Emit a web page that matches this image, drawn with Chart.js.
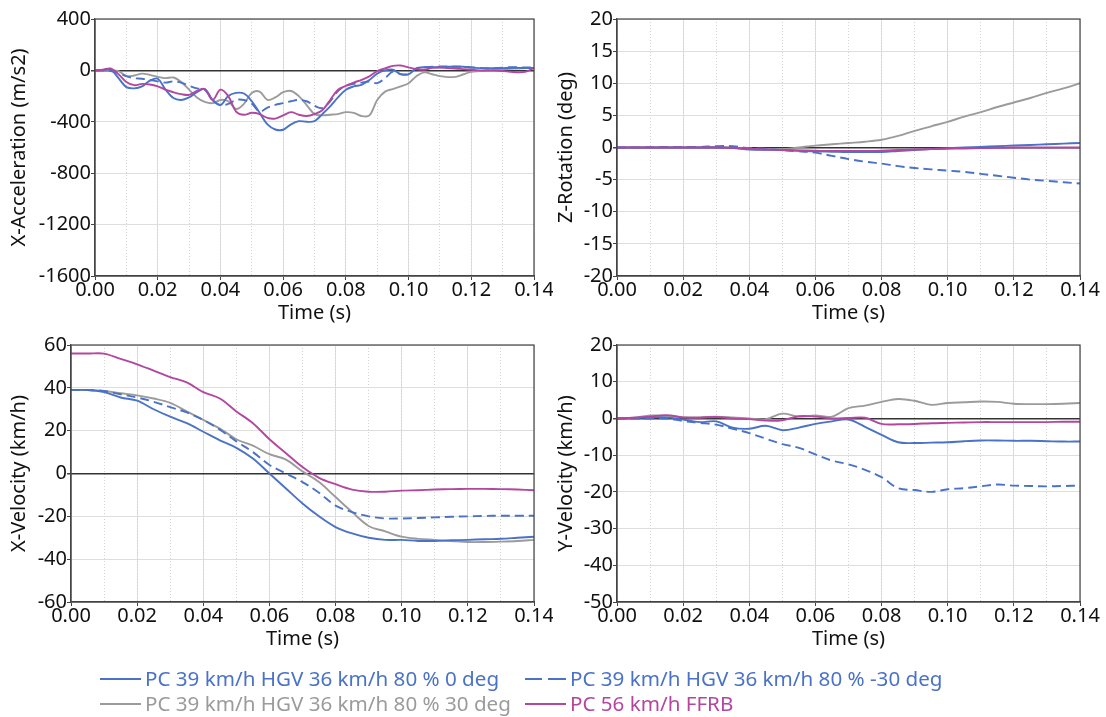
<!DOCTYPE html>
<html><head><meta charset="utf-8">
<script src="https://cdn.jsdelivr.net/npm/chart.js@4.4.1/dist/chart.umd.min.js"></script>
<style>
html,body{margin:0;padding:0;background:#fff;width:1106px;height:717px;overflow:hidden;font-family:'Noto Sans',sans-serif;}
canvas{position:absolute;}
.leg{position:absolute;font-size:20.6px;line-height:25px;white-space:nowrap;}
.ln{display:inline-block;vertical-align:middle;width:41px;height:0;border-top:2px solid;margin-right:4px;position:relative;top:-1px;}
.dash{display:inline-block;vertical-align:middle;width:17px;height:0;border-top:2px solid;position:relative;top:-1px;}
</style></head><body>
<canvas id="cAcc" width="553" height="330" style="left:0;top:0"></canvas>
<canvas id="cRot" width="559" height="330" style="left:547px;top:0"></canvas>
<canvas id="cVx" width="553" height="330" style="left:0;top:326px"></canvas>
<canvas id="cVy" width="559" height="330" style="left:547px;top:326px"></canvas>
<div id="legend"></div>
<script>
// ---------- DATA ----------
const seriesNames = [
  'PC 39 km/h HGV 36 km/h 80 % 0 deg',
  'PC 39 km/h HGV 36 km/h 80 % -30 deg',
  'PC 39 km/h HGV 36 km/h 80 % 30 deg',
  'PC 56 km/h FFRB'
];
const xTickLabels = ['0.00','0.02','0.04','0.06','0.08','0.10','0.12','0.14'];

const accTime = [0,0.0025,0.005,0.0075,0.01,0.0125,0.015,0.0175,0.02,0.0225,
  0.025,0.0275,0.03,0.0325,0.035,0.0375,0.04,0.0425,0.045,0.0475,
  0.05,0.0525,0.055,0.0575,0.06,0.0625,0.065,0.0675,0.07,0.0725,
  0.075,0.0775,0.08,0.0825,0.085,0.0875,0.09,0.0925,0.095,0.0975,
  0.1,0.1025,0.105,0.1075,0.11,0.1125,0.115,0.1175,0.12,0.1225,
  0.125,0.1275,0.13,0.1325,0.135,0.1375,0.14];

const accDeg0 = [0,2,5,-60,-130,-140,-125,-80,-65,-150,
  -215,-230,-210,-170,-145,-230,-270,-200,-175,-180,
  -240,-330,-420,-460,-462,-420,-395,-400,-395,-340,
  -280,-210,-150,-125,-112,-75,-25,0,5,-30,
  -30,15,25,25,25,28,30,28,22,18,
  18,18,18,20,20,18,20];
const accDegM30 = [0,0,-5,-20,-45,-60,-65,-75,-85,-95,
  -85,-95,-120,-140,-150,-230,-270,-260,-230,-230,
  -260,-320,-290,-268,-255,-240,-230,-240,-275,-294,
  -240,-160,-120,-105,-95,-86,-99,-60,-10,-29,
  -25,15,25,28,30,30,28,28,25,20,
  15,18,22,25,25,22,25];
const accDeg30 = [0,0,0,-5,-45,-40,-25,-35,-50,-60,
  -55,-90,-150,-210,-245,-255,-230,-240,-300,-260,
  -175,-165,-230,-210,-170,-160,-200,-270,-340,-350,
  -345,-340,-325,-330,-355,-350,-230,-165,-145,-125,
  -100,-45,-15,-30,-45,-52,-50,-30,-12,-5,
  0,5,10,12,15,18,20];
const accFFRB = [0,5,15,-30,-90,-115,-105,-110,-125,-150,
  -170,-185,-190,-160,-145,-230,-150,-200,-320,-345,
  -330,-340,-370,-375,-350,-325,-345,-355,-340,-310,
  -230,-150,-120,-95,-73,-47,-5,15,35,38,
  23,10,5,20,22,18,15,10,5,0,
  0,0,-5,-10,-15,-10,20];

const time = [0,0.005,0.01,0.015,0.02,0.025,0.03,0.035,0.04,0.045,
  0.05,0.055,0.06,0.065,0.07,0.075,0.08,0.085,0.09,0.095,
  0.1,0.105,0.11,0.115,0.12,0.125,0.13,0.135,0.14];

const rotDeg0 = [0,0,0,0,0,0,0,-0.1,-0.3,-0.35,-0.4,-0.5,-0.6,-0.65,-0.7,-0.7,-0.7,-0.55,-0.4,-0.25,-0.1,0,0.1,0.2,0.3,0.4,0.5,0.6,0.7];
const rotDegM30 = [0,0,0.05,0.1,0.1,0.1,0.2,0.2,-0.1,-0.2,-0.4,-0.6,-0.8,-1.3,-1.8,-2.2,-2.5,-2.9,-3.2,-3.4,-3.6,-3.8,-4.1,-4.4,-4.7,-5,-5.2,-5.4,-5.6];
const rotDeg30 = [0,0,0,0,0,0,0.1,0,-0.2,-0.3,-0.3,0,0.3,0.5,0.7,0.9,1.2,1.8,2.6,3.3,4,4.8,5.5,6.3,7,7.7,8.5,9.2,10];
const rotFFRB = [0,0,0,0,0,0,0,-0.05,-0.2,-0.3,-0.4,-0.45,-0.5,-0.55,-0.55,-0.55,-0.5,-0.4,-0.3,-0.25,-0.2,-0.15,-0.1,-0.05,0,0,0,0,0];

const vxDeg0 = [39,39,38,35.5,34,30,26.5,23.5,19.5,15.5,12,7,0,-7,-14,-20,-25,-28,-30,-31,-31,-31.5,-31.5,-31.2,-31,-30.7,-30.5,-30,-29.5];
const vxDegM30 = [39,39,38.5,37,35.5,33.5,31,28.5,25,20.5,15,10,4,0,-4,-9,-15,-18,-20,-21,-21,-20.8,-20.5,-20.2,-20,-19.8,-19.7,-19.7,-19.7];
const vxDeg30 = [39,39,38.5,37.5,36.5,35,33,29,25,21,16,13,9,6.5,1,-4,-11,-18,-24.5,-27,-29.5,-30.5,-31,-31.5,-32,-32,-31.8,-31.5,-31];
const vxFFRB = [56,56,56,53.5,51,48,45,42.5,38,35,29,23.5,16,9.5,3,-2,-5,-7.5,-8.5,-8.5,-8,-7.8,-7.5,-7.3,-7.2,-7.2,-7.3,-7.5,-7.8];

const vyDeg0 = [0,0.1,0.3,0.3,-0.3,-1,-0.8,-2.5,-2.8,-2,-3.2,-2.5,-1.5,-0.8,-0.3,-2.3,-4.5,-6.5,-6.7,-6.6,-6.5,-6.2,-6,-6,-6.1,-6.1,-6.2,-6.3,-6.3];
const vyDegM30 = [0,0,0,0,-0.7,-1.2,-1.7,-2.8,-4,-5.5,-7,-8,-9.8,-11.5,-12.5,-14,-16,-19,-19.5,-20,-19.3,-19,-18.5,-18,-18.3,-18.4,-18.5,-18.4,-18.3];
const vyDeg30 = [0,0.2,0.8,0.7,0.3,0.3,0.5,0.3,0,-0.2,1.3,0.5,0.8,0.5,2.8,3.5,4.5,5.3,4.8,3.7,4.2,4.4,4.6,4.5,4,3.9,3.9,4,4.2];
const vyFFRB = [0,0.2,0.5,0.9,0.3,0.2,0.4,0,-0.2,-0.6,-0.5,0.6,0.5,0,0.1,0.2,-1.5,-1.6,-1.5,-1.3,-1.2,-1.1,-1,-1,-1,-1,-1,-0.9,-0.9];

// ---------- STYLE ----------
const COL = ['#4a72c6', '#4a72c6', '#9b9b9b', '#b3479f'];
const DASH = [[], [9, 5], [], []];
const FONT = "'Noto Sans', sans-serif";
const FS = 20;
Chart.defaults.font.family = FONT;
Chart.defaults.color = '#111';

const frame = {
  id: 'frame',
  afterDatasetsDraw(chart) {
    const {ctx, chartArea: a} = chart;
    ctx.save();
    ctx.strokeStyle = '#444';
    ctx.lineWidth = 1.2;
    ctx.strokeRect(a.left, a.top, a.right - a.left, a.bottom - a.top);
    ctx.restore();
  }
};

function makeChart(id, t, vals, yMin, yMax, yStep, yTitle, yW, padRight) {
  const order = [3, 1, 0, 2]; // draw magenta on top
  const datasets = order.map(i => ({
    label: seriesNames[i],
    data: t.map((x, k) => ({x: x, y: vals[i][k]})),
    borderColor: COL[i],
    borderDash: DASH[i],
    borderWidth: 1.9,
    pointRadius: 0,
    tension: 0.35,
    fill: false
  }));
  return new Chart(document.getElementById(id), {
    type: 'line',
    data: {datasets},
    plugins: [frame],
    options: {
      responsive: false, animation: false, devicePixelRatio: 1,
      layout: {padding: {top: 19, right: padRight, left: 0, bottom: 0}},
      plugins: {legend: {display: false}, tooltip: {enabled: false}},
      scales: {
        x: {
          type: 'linear', min: 0, max: 0.14, position: 'bottom',
          afterFit: s => { s.height = 54; },
          ticks: {stepSize: 0.02, autoSkip: false, maxRotation: 0, padding: -2, font: {size: FS}, color: '#111',
            callback: (v) => { const s = v.toFixed(2); return xTickLabels.includes(s) ? s : ''; }},
          grid: {color: '#dedede', lineWidth: 1, tickLength: 4, tickColor: '#444'},
          border: {color: '#444', width: 1.2},
          title: {display: true, text: 'Time (s)', font: {size: FS}, color: '#111', padding: {top: 0, bottom: 5}}
        },
        xm: {
          type: 'linear', min: 0, max: 0.14, position: 'top',
          afterFit: s => { s.height = 0; },
          ticks: {display: false, stepSize: 0.01, autoSkip: false},
          grid: {color: '#d2d2d2', lineWidth: 1, drawTicks: false},
          border: {display: false, dash: [1, 2]}
        },
        y: {
          min: yMin, max: yMax,
          afterFit: s => { s.width = yW; },
          ticks: {stepSize: yStep, padding: 0, font: {size: FS}, color: '#111', callback: v => String(v)},
          grid: {
            color: c => (c.tick && c.tick.value === 0) ? '#333' : '#dedede',
            lineWidth: c => (c.tick && c.tick.value === 0) ? 1.5 : 1,
            tickLength: 4, tickColor: '#444'
          },
          border: {color: '#444', width: 1.2},
          title: {display: true, text: yTitle, font: {size: FS}, color: '#111', padding: {top: 7, bottom: 0}}
        }
      }
    }
  });
}

makeChart('cAcc', accTime, [accDeg0, accDegM30, accDeg30, accFFRB], -1600, 400, 400, 'X-Acceleration (m/s2)', 95, 19);
makeChart('cRot', time, [rotDeg0, rotDegM30, rotDeg30, rotFFRB], -20, 20, 5, 'Z-Rotation (deg)', 70, 26);
makeChart('cVx', time, [vxDeg0, vxDegM30, vxDeg30, vxFFRB], -60, 60, 20, 'X-Velocity (km/h)', 71, 19);
makeChart('cVy', time, [vyDeg0, vyDegM30, vyDeg30, vyFFRB], -50, 20, 10, 'Y-Velocity (km/h)', 70, 26);

// ---------- LEGEND ----------
const legPos = [[100, 665.5], [525, 665.5], [100, 690.5], [525, 690.5]];
const leg = document.getElementById('legend');
seriesNames.forEach((name, i) => {
  const d = document.createElement('div');
  d.className = 'leg';
  d.style.left = legPos[i][0] + 'px';
  d.style.top = legPos[i][1] + 'px';
  d.style.color = COL[i];
  let sample;
  if (DASH[i].length) {
    sample = '<span class="ln" style="border-top:none;width:41px">' +
      '<span class="dash" style="position:absolute;left:0;top:-1px;border-color:' + COL[i] + '"></span>' +
      '<span class="dash" style="position:absolute;left:23px;top:-1px;width:18px;border-color:' + COL[i] + '"></span></span>';
  } else {
    sample = '<span class="ln" style="border-color:' + COL[i] + '"></span>';
  }
  d.innerHTML = sample + '<span>' + name + '</span>';
  leg.appendChild(d);
});
</script>
</body></html>
